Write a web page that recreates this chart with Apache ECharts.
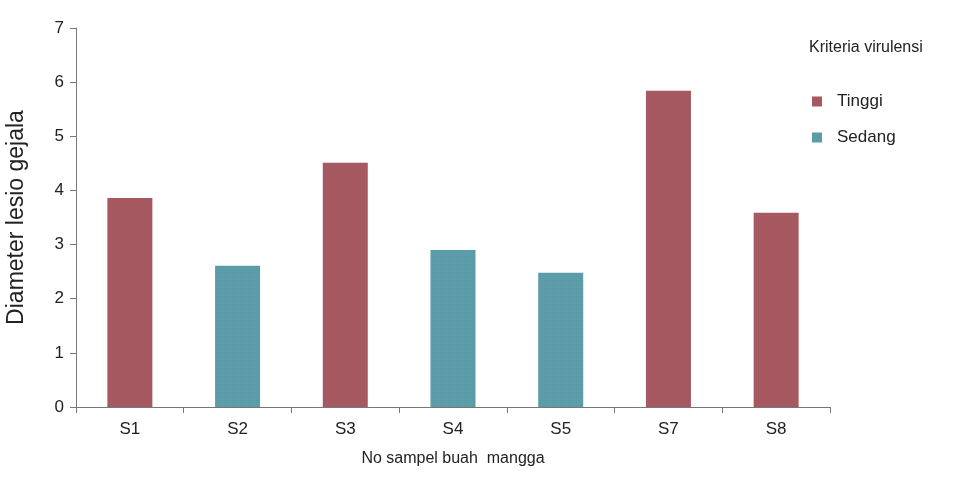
<!DOCTYPE html>
<html><head><meta charset="utf-8">
<script src="https://cdn.jsdelivr.net/npm/echarts@6/dist/echarts.min.js"></script>
<style>html,body{margin:0;padding:0;background:#fff}#c{width:974px;height:480px}</style>
</head><body><div id="c"></div>
<script>
const categories = ['S1','S2','S3','S4','S5','S7','S8'];
const tinggi = [3.86, '-', 4.51, '-', '-', 5.84, 3.59];
const sedang = ['-', 2.61, '-', 2.90, 2.48, '-', '-'];
const yTicks = [0,1,2,3,4,5,6,7];
const font = 'Liberation Sans, Arial, sans-serif';
const chart = echarts.init(document.getElementById('c'), null, {renderer:'canvas'});
chart.setOption({
  animation:false,
  backgroundColor:'#fff',
  textStyle:{fontFamily:font},
  title:{text:'Kriteria virulensi', left:804, top:35, textStyle:{fontFamily:font, fontSize:16, fontWeight:'normal', color:'#222'}},
  legend:{orient:'vertical', left:807, top:88, itemWidth:10, itemHeight:10, itemGap:19, icon:'rect',
    textStyle:{fontFamily:font, fontSize:17, color:'#222', padding:[0,0,0,10]},
    data:['Tinggi','Sedang']},
  grid:{left:76, right:144, top:28, bottom:73, containLabel:false, outerBoundsMode:'none'},
  xAxis:{type:'category', data:categories, boundaryGap:true,
    name:'No sampel buah  mangga', nameLocation:'middle', nameGap:44,
    nameTextStyle:{fontFamily:font, fontSize:16, color:'#222'},
    axisLine:{lineStyle:{color:'#777'}},
    axisTick:{show:true, alignWithLabel:false, length:6, lineStyle:{color:'#777'}},
    axisLabel:{fontFamily:font, fontSize:17, color:'#222', margin:14}},
  yAxis:{type:'value', min:yTicks[0], max:yTicks[yTicks.length-1], interval:1,
    name:'Diameter lesio gejala', nameLocation:'middle', nameGap:48,
    nameTextStyle:{fontFamily:font, fontSize:23, color:'#222'},
    axisLine:{show:true, lineStyle:{color:'#777'}},
    axisTick:{show:true, length:6, lineStyle:{color:'#777'}},
    splitLine:{show:false},
    axisLabel:{fontFamily:font, fontSize:17, color:'#222', margin:12}},
  series:[
    {name:'Tinggi', type:'bar', stack:'s', barWidth:45, data:tinggi,
      itemStyle:{color:'#a85a62', decal:{symbol:'rect', symbolSize:0.5, dashArrayX:[1,1], dashArrayY:[1,1], color:'rgba(90,30,40,0.35)'}}},
    {name:'Sedang', type:'bar', stack:'s', barWidth:45, data:sedang,
      itemStyle:{color:'#5d9eab', decal:{symbol:'rect', symbolSize:0.5, dashArrayX:[1,1], dashArrayY:[1,1], color:'rgba(30,70,90,0.35)'}}}
  ]
});
</script></body></html>
